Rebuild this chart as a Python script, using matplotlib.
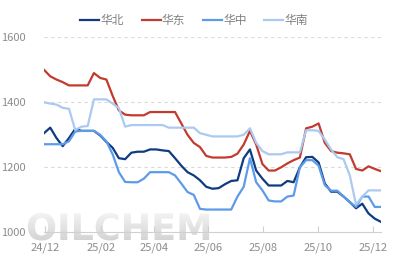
import numpy as np
import pandas as pd
import matplotlib
matplotlib.use("Agg")
import matplotlib.pyplot as plt
import matplotlib.dates as mdates
import matplotlib.transforms as mtransforms
from matplotlib.textpath import TextPath
from matplotlib.font_manager import FontProperties
from matplotlib.patches import PathPatch

plt.rcParams['font.family'] = ['Noto Sans CJK SC', 'DejaVu Sans']

# weekly sampled prices, Dec 2024 - Dec 2025
dates = pd.date_range('2024-11-30', '2025-12-10', periods=55)

north = [1305, 1322, 1290, 1265, 1290, 1318, 1312, 1312, 1312, 1298,
         1278, 1260, 1228, 1225, 1245, 1248, 1248, 1255, 1255, 1252,
         1250, 1228, 1205, 1185, 1175, 1160, 1140, 1134, 1136, 1148,
         1158, 1160, 1228, 1255, 1190, 1165, 1144, 1144, 1144, 1158,
         1154, 1200, 1231, 1232, 1215, 1150, 1125, 1125, 1110, 1093,
         1074, 1088, 1058, 1042, 1032]

east = [1500, 1480, 1470, 1462, 1452, 1452, 1452, 1452, 1490, 1475,
        1470, 1420, 1375, 1362, 1360, 1360, 1360, 1370, 1370, 1370,
        1370, 1370, 1335, 1300, 1275, 1262, 1235, 1230, 1230, 1230,
        1232, 1242, 1270, 1312, 1270, 1210, 1190, 1190, 1200, 1212,
        1222, 1230, 1320, 1325, 1335, 1275, 1250, 1245, 1243, 1240,
        1195, 1190, 1203, 1195, 1188]

central = [1271, 1271, 1271, 1271, 1280, 1310, 1312, 1312, 1312, 1300,
           1280, 1240, 1185, 1155, 1154, 1154, 1165, 1185, 1185, 1185,
           1185, 1175, 1150, 1124, 1115, 1072, 1070, 1070, 1070, 1070,
           1070, 1110, 1140, 1228, 1154, 1129, 1098, 1095, 1095, 1110,
           1113, 1200, 1222, 1222, 1205, 1145, 1128, 1128, 1110, 1093,
           1078, 1110, 1110, 1078, 1078]

south = [1400, 1396, 1393, 1383, 1380, 1315, 1325, 1327, 1409, 1409,
         1409, 1396, 1382, 1325, 1330, 1330, 1330, 1330, 1330, 1330,
         1322, 1322, 1322, 1322, 1322, 1305, 1300, 1295, 1295, 1295,
         1295, 1295, 1300, 1320, 1275, 1250, 1240, 1240, 1240, 1246,
         1246, 1246, 1314, 1314, 1312, 1285, 1255, 1231, 1225, 1175,
         1085, 1110, 1129, 1129, 1129]

series = [('华北', north, '#0f3b80'),
          ('华东', east, '#c33a2e'),
          ('华中', central, '#5d9be8'),
          ('华南', south, '#abc9f1')]

yticks = [1000, 1200, 1400, 1600]
xtick_dates = pd.to_datetime(['2024-12-01', '2025-02-01', '2025-04-01',
                              '2025-06-01', '2025-08-01', '2025-10-01',
                              '2025-12-01'])

W, H = 396, 265
fig = plt.figure(figsize=(W / 100, H / 100), dpi=100)
fig.patch.set_facecolor('white')

# watermark layer in pixel coordinates
wm = fig.add_axes([0, 0, 1, 1], zorder=0)
wm.set_xlim(0, W)
wm.set_ylim(0, H)
wm.axis('off')
fp = FontProperties(family='DejaVu Sans', weight='bold')
tp = TextPath((0, 0), 'OILCHEM', size=36.5, prop=fp)
tr = mtransforms.Affine2D().translate(26, H - 240) + wm.transData
clip = PathPatch(tp, transform=tr, facecolor='none', edgecolor='none')
wm.add_patch(clip)
grad = np.linspace(0, 1, 64).reshape(-1, 1)
img = wm.imshow(grad, cmap=matplotlib.colors.LinearSegmentedColormap.from_list(
    'wm', ['#d2d2d2', '#f4f4f4']), extent=[20, 230, H - 212, H - 242],
    aspect='auto', origin='upper', interpolation='bilinear')
img.set_clip_path(clip)

ax = fig.add_axes([44 / W, 1 - 232.3 / H, 337 / W, (232.3 - 37.3) / H], zorder=1)
ax.patch.set_alpha(0)

for name, vals, color in series:
    ax.plot(dates, vals, color=color, lw=1.6, label=name, solid_joinstyle='round')

ax.set_ylim(1000, 1600)
ax.set_yticks(yticks)
ax.set_xlim(pd.Timestamp('2024-11-30'), pd.Timestamp('2025-12-10'))
ax.set_xticks(xtick_dates)
ax.xaxis.set_major_formatter(mdates.DateFormatter('%y/%m'))

for y in yticks[1:]:
    ax.axhline(y, color='#d9d9d9', lw=0.8, ls=(0, (3, 3)), zorder=0)

for s in ['top', 'right', 'left']:
    ax.spines[s].set_visible(False)
ax.spines['bottom'].set_color('#d0d0d0')
ax.spines['bottom'].set_linewidth(0.8)

ax.tick_params(axis='y', length=0, pad=13, labelsize=8, labelcolor='#8c8c8c')
ax.tick_params(axis='x', direction='in', length=4, width=0.8, color='#d0d0d0',
               pad=7, labelsize=8, labelcolor='#8c8c8c')

fig.legend(loc='center', bbox_to_anchor=(0.49, 0.921), ncol=4, frameon=False,
           fontsize=8.5, handlelength=1.6, handletextpad=0.1, columnspacing=1.5,
           labelcolor='#808080')

fig.savefig('out.png', dpi=100)
